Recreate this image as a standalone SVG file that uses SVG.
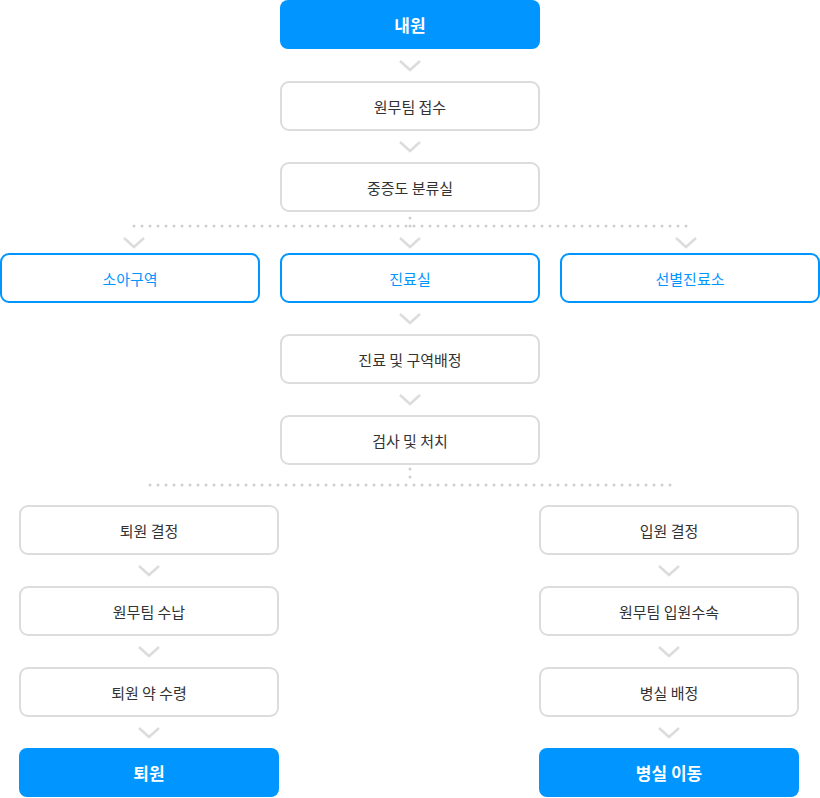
<svg xmlns="http://www.w3.org/2000/svg" width="820" height="798" viewBox="0 0 820 798">
<style>
.b{fill:#0095ff}
.g{fill:#fff;stroke:#dcdcdc;stroke-width:2}
.o{fill:#fff;stroke:#0095ff;stroke-width:2}
text{font-family:"Noto Sans CJK KR","Noto Sans",sans-serif;text-anchor:middle;dominant-baseline:central}
.tb{fill:#fff;font-size:17px;font-weight:700}
.tg{fill:#333;font-size:15px}
.to{fill:#0095ff;font-size:15px}
.ch{fill:none;stroke:#dcdcdc;stroke-width:2.5}
.dot{fill:none;stroke:#cfcfcf;stroke-width:3;stroke-dasharray:0 8;stroke-linecap:round}
</style>
<defs>
<path id="chev" class="ch" d="M-10,-4 L0,5 L10,-4"/>
</defs>
<g id="connectors">
<use href="#chev" x="410" y="65"/>
<use href="#chev" x="410" y="146"/>
<path class="dot" d="M410,218 V226 M134,226 H686 M134,226 V234 M410,226 V234 M686,226 V234"/>
<use href="#chev" x="134" y="242"/>
<use href="#chev" x="410" y="242"/>
<use href="#chev" x="686" y="242"/>
<use href="#chev" x="410" y="318"/>
<use href="#chev" x="410" y="399"/>
<path class="dot" d="M410,469 V485 M150,485 H670 M150,485 V493 M670,485 V493"/>
<use href="#chev" x="149" y="570"/>
<use href="#chev" x="149" y="651"/>
<use href="#chev" x="149" y="732"/>
<use href="#chev" x="669" y="570"/>
<use href="#chev" x="669" y="651"/>
<use href="#chev" x="669" y="732"/>
</g>
<g id="n1"><rect class="b" x="280" y="0" width="260" height="49" rx="8"/><text class="tb" x="410" y="24.5">내원</text></g>
<g id="n2"><rect class="g" x="281" y="82" width="258" height="48" rx="8"/><text class="tg" x="410" y="106">원무팀 접수</text></g>
<g id="n3"><rect class="g" x="281" y="163" width="258" height="48" rx="8"/><text class="tg" x="410" y="187">중증도 분류실</text></g>
<g id="n4"><rect class="o" x="1" y="254" width="258" height="48" rx="8"/><text class="to" x="130" y="278">소아구역</text></g>
<g id="n5"><rect class="o" x="281" y="254" width="258" height="48" rx="8"/><text class="to" x="410" y="278">진료실</text></g>
<g id="n6"><rect class="o" x="561" y="254" width="258" height="48" rx="8"/><text class="to" x="690" y="278">선별진료소</text></g>
<g id="n7"><rect class="g" x="281" y="335" width="258" height="48" rx="8"/><text class="tg" x="410" y="359">진료 및 구역배정</text></g>
<g id="n8"><rect class="g" x="281" y="416" width="258" height="48" rx="8"/><text class="tg" x="410" y="440">검사 및 처치</text></g>
<g id="n9"><rect class="g" x="20" y="506" width="258" height="48" rx="8"/><text class="tg" x="149" y="530">퇴원 결정</text></g>
<g id="n10"><rect class="g" x="20" y="587" width="258" height="48" rx="8"/><text class="tg" x="149" y="611">원무팀 수납</text></g>
<g id="n11"><rect class="g" x="20" y="668" width="258" height="48" rx="8"/><text class="tg" x="149" y="692">퇴원 약 수령</text></g>
<g id="n12"><rect class="b" x="19" y="748" width="260" height="49" rx="8"/><text class="tb" x="149" y="772.5">퇴원</text></g>
<g id="n13"><rect class="g" x="540" y="506" width="258" height="48" rx="8"/><text class="tg" x="669" y="530">입원 결정</text></g>
<g id="n14"><rect class="g" x="540" y="587" width="258" height="48" rx="8"/><text class="tg" x="669" y="611">원무팀 입원수속</text></g>
<g id="n15"><rect class="g" x="540" y="668" width="258" height="48" rx="8"/><text class="tg" x="669" y="692">병실 배정</text></g>
<g id="n16"><rect class="b" x="539" y="748" width="260" height="49" rx="8"/><text class="tb" x="669" y="772.5">병실 이동</text></g>
</svg>
